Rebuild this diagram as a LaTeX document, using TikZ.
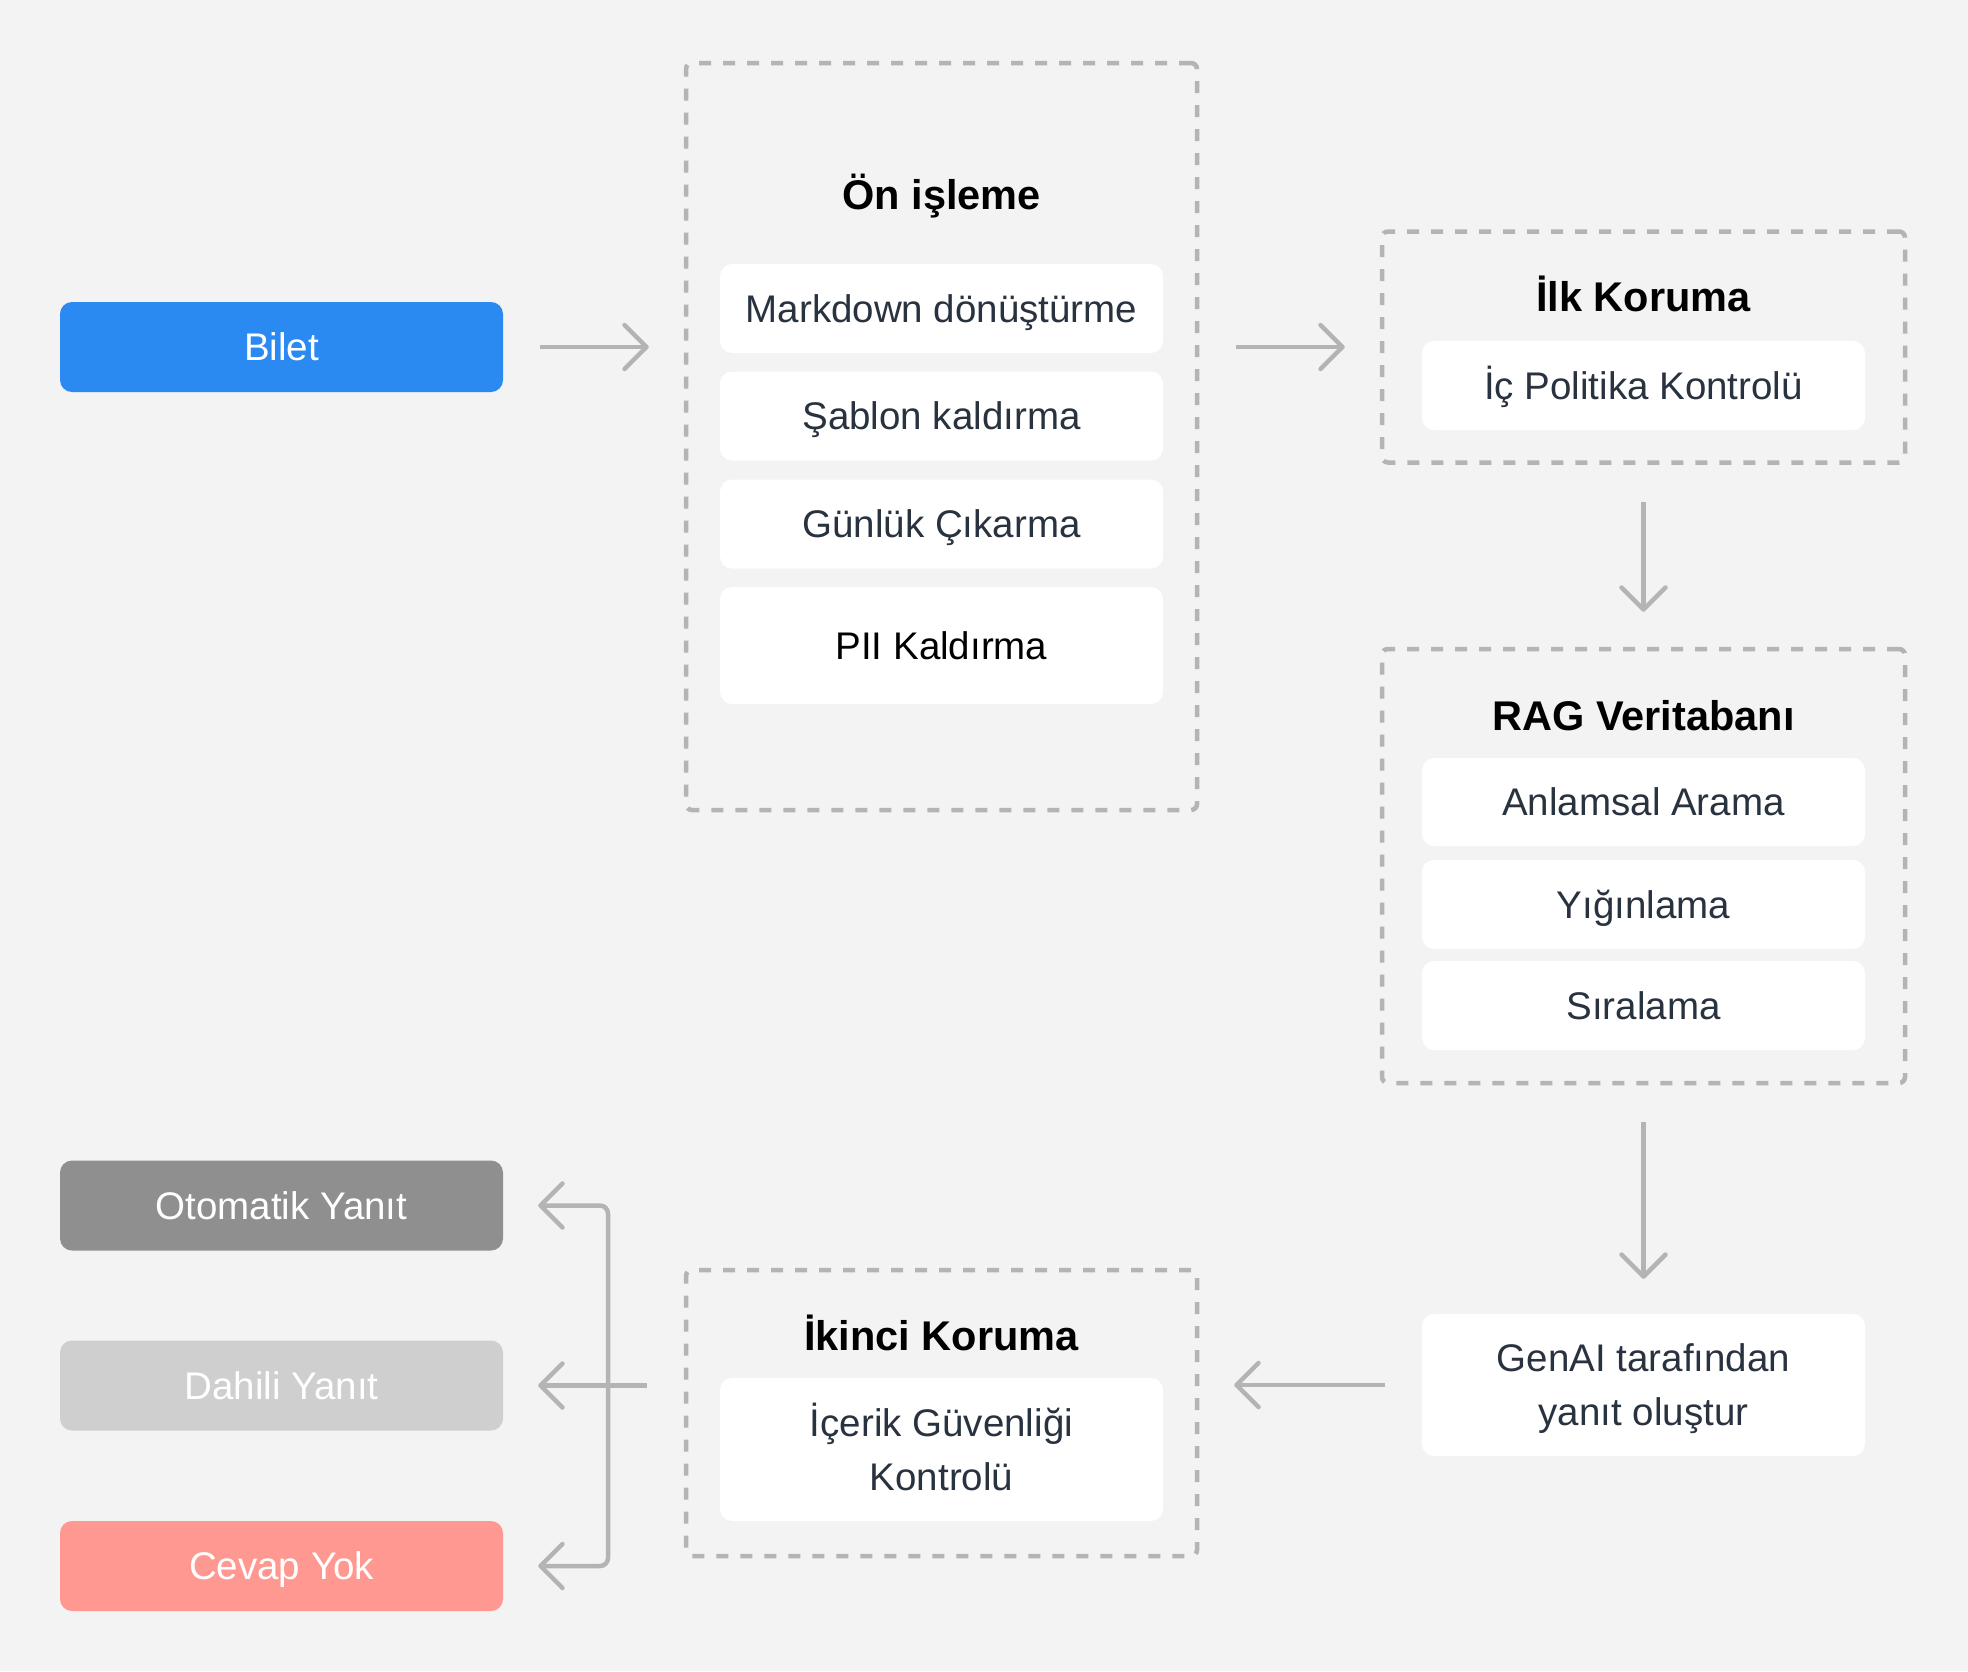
\documentclass[tikz,border=0pt]{standalone}
\usepackage{fontspec}
\setmainfont{Liberation Sans}
\usetikzlibrary{arrows.meta}
\definecolor{bgc}{HTML}{F3F3F3}
\definecolor{linec}{HTML}{B4B4B4}
\definecolor{itemtxt}{HTML}{29323F}
\definecolor{bluec}{HTML}{2A8AF2}
\definecolor{darkgc}{HTML}{8F8F8F}
\definecolor{lightgc}{HTML}{CFCFCF}
\definecolor{salmonc}{HTML}{FF9890}
\newcommand{\mybody}{\fontsize{38.5}{54}\selectfont}
\newcommand{\mytitle}{\fontsize{41.5}{50}\selectfont\bfseries}
\begin{document}
\begin{tikzpicture}[x=1pt,y=-1pt,
  groupbox/.style={draw=linec, line width=4.5pt, dash pattern=on 12pt off 12pt, rounded corners=6pt, inner sep=0pt, minimum width=#1},
  grouptitle/.style={font=\mytitle, text=black, inner sep=0pt, text height=33pt, text depth=3.5pt},
  item/.style={fill=white, rounded corners=12pt, minimum width=443pt, minimum height=89pt, text=itemtxt, font=\mybody, align=center, inner sep=0pt},
  one/.style={text height=31pt, text depth=3.5pt},
  colbox/.style={fill=#1, rounded corners=12pt, minimum width=443pt, minimum height=90pt, text=white, font=\mybody, inner sep=0pt, text height=31pt, text depth=3.5pt},
  conn/.style={draw=linec, line width=4.5pt, -{Straight Barb[length=22pt,width=44pt,round]}, shorten <=37pt, shorten >=35pt}
]
\fill[bgc] (0,0) rectangle (1968,1671);
\useasboundingbox (0,0) rectangle (1968,1671);

% Bilet
\node[colbox=bluec] (bilet) at (281.5,347) {Bilet};

% Ön işleme
\node[groupbox=511pt, minimum height=747pt] (pre) at (941.5,436.5) {};
\node[grouptitle] (pretitle) at (941.5,194.5) {Ön işleme};
\node[item, one] (md) at (941.5,308.5) {Markdown dönüştürme};
\node[item, one] (sab) at (941.5,416) {Şablon kaldırma};
\node[item, one] (gun) at (941.5,524) {Günlük Çıkarma};
\node[item, one, minimum height=117pt, text=black] (pii) at (941.5,645.5) {PII Kaldırma};

% İlk Koruma
\node[groupbox=523pt, minimum height=231pt] (ilk) at (1643.5,347) {};
\node[grouptitle] (ilktitle) at (1643.5,297) {İlk Koruma};
\node[item, one] (icp) at (1643.5,385.5) {İç Politika Kontrolü};

% RAG
\node[groupbox=523pt, minimum height=434pt] (rag) at (1643.5,866) {};
\node[grouptitle] (ragtitle) at (1643.5,715.5) {RAG Veritabanı};
\node[item, one, minimum height=88pt] (anl) at (1643.5,802) {Anlamsal Arama};
\node[item, one] (yig) at (1643.5,904.5) {Yığınlama};
\node[item, one] (sir) at (1643.5,1005.5) {Sıralama};

% GenAI
\node[item, minimum height=142pt] (gen) at (1643.5,1385) {};
\node[text=itemtxt, font=\mybody, align=center, inner sep=0pt] (gentxt) at (1643.5,1389) {GenAI tarafından\\yanıt oluştur};

% İkinci Koruma
\node[groupbox=511pt, minimum height=286pt] (iki) at (941.5,1413) {};
\node[grouptitle] (ikititle) at (941.5,1335.5) {İkinci Koruma};
\node[item, minimum height=143pt] (ice) at (941.5,1449.5) {};
\node[text=itemtxt, font=\mybody, align=center, inner sep=0pt] (icetxt) at (941.5,1447) {İçerik Güvenliği\\Kontrolü};

% Outputs
\node[colbox=darkgc] (oto) at (281.5,1205.5) {Otomatik Yanıt};
\node[colbox=lightgc] (dah) at (281.5,1385.5) {Dahili Yanıt};
\node[colbox=salmonc] (cev) at (281.5,1566) {Cevap Yok};

% Connectors
\draw[conn] (bilet.east) -- (bilet.east -| pre.west);
\draw[conn] (ilk.west -| pre.east) -- (ilk.west);
\draw[conn] (ilk.south) -- (rag.north);
\draw[conn] (rag.south) -- (gen.north);
\draw[conn] (gen.west) -- (gen.west -| iki.east);
\draw[conn] (dah.east -| iki.west) -- (dah.east);
\coordinate (fork) at (608,1385.5);
\draw[conn, shorten <=0pt, rounded corners=8pt] (fork) |- (oto.east);
\draw[conn, shorten <=0pt, rounded corners=8pt] (fork) |- (cev.east);
\end{tikzpicture}
\end{document}
